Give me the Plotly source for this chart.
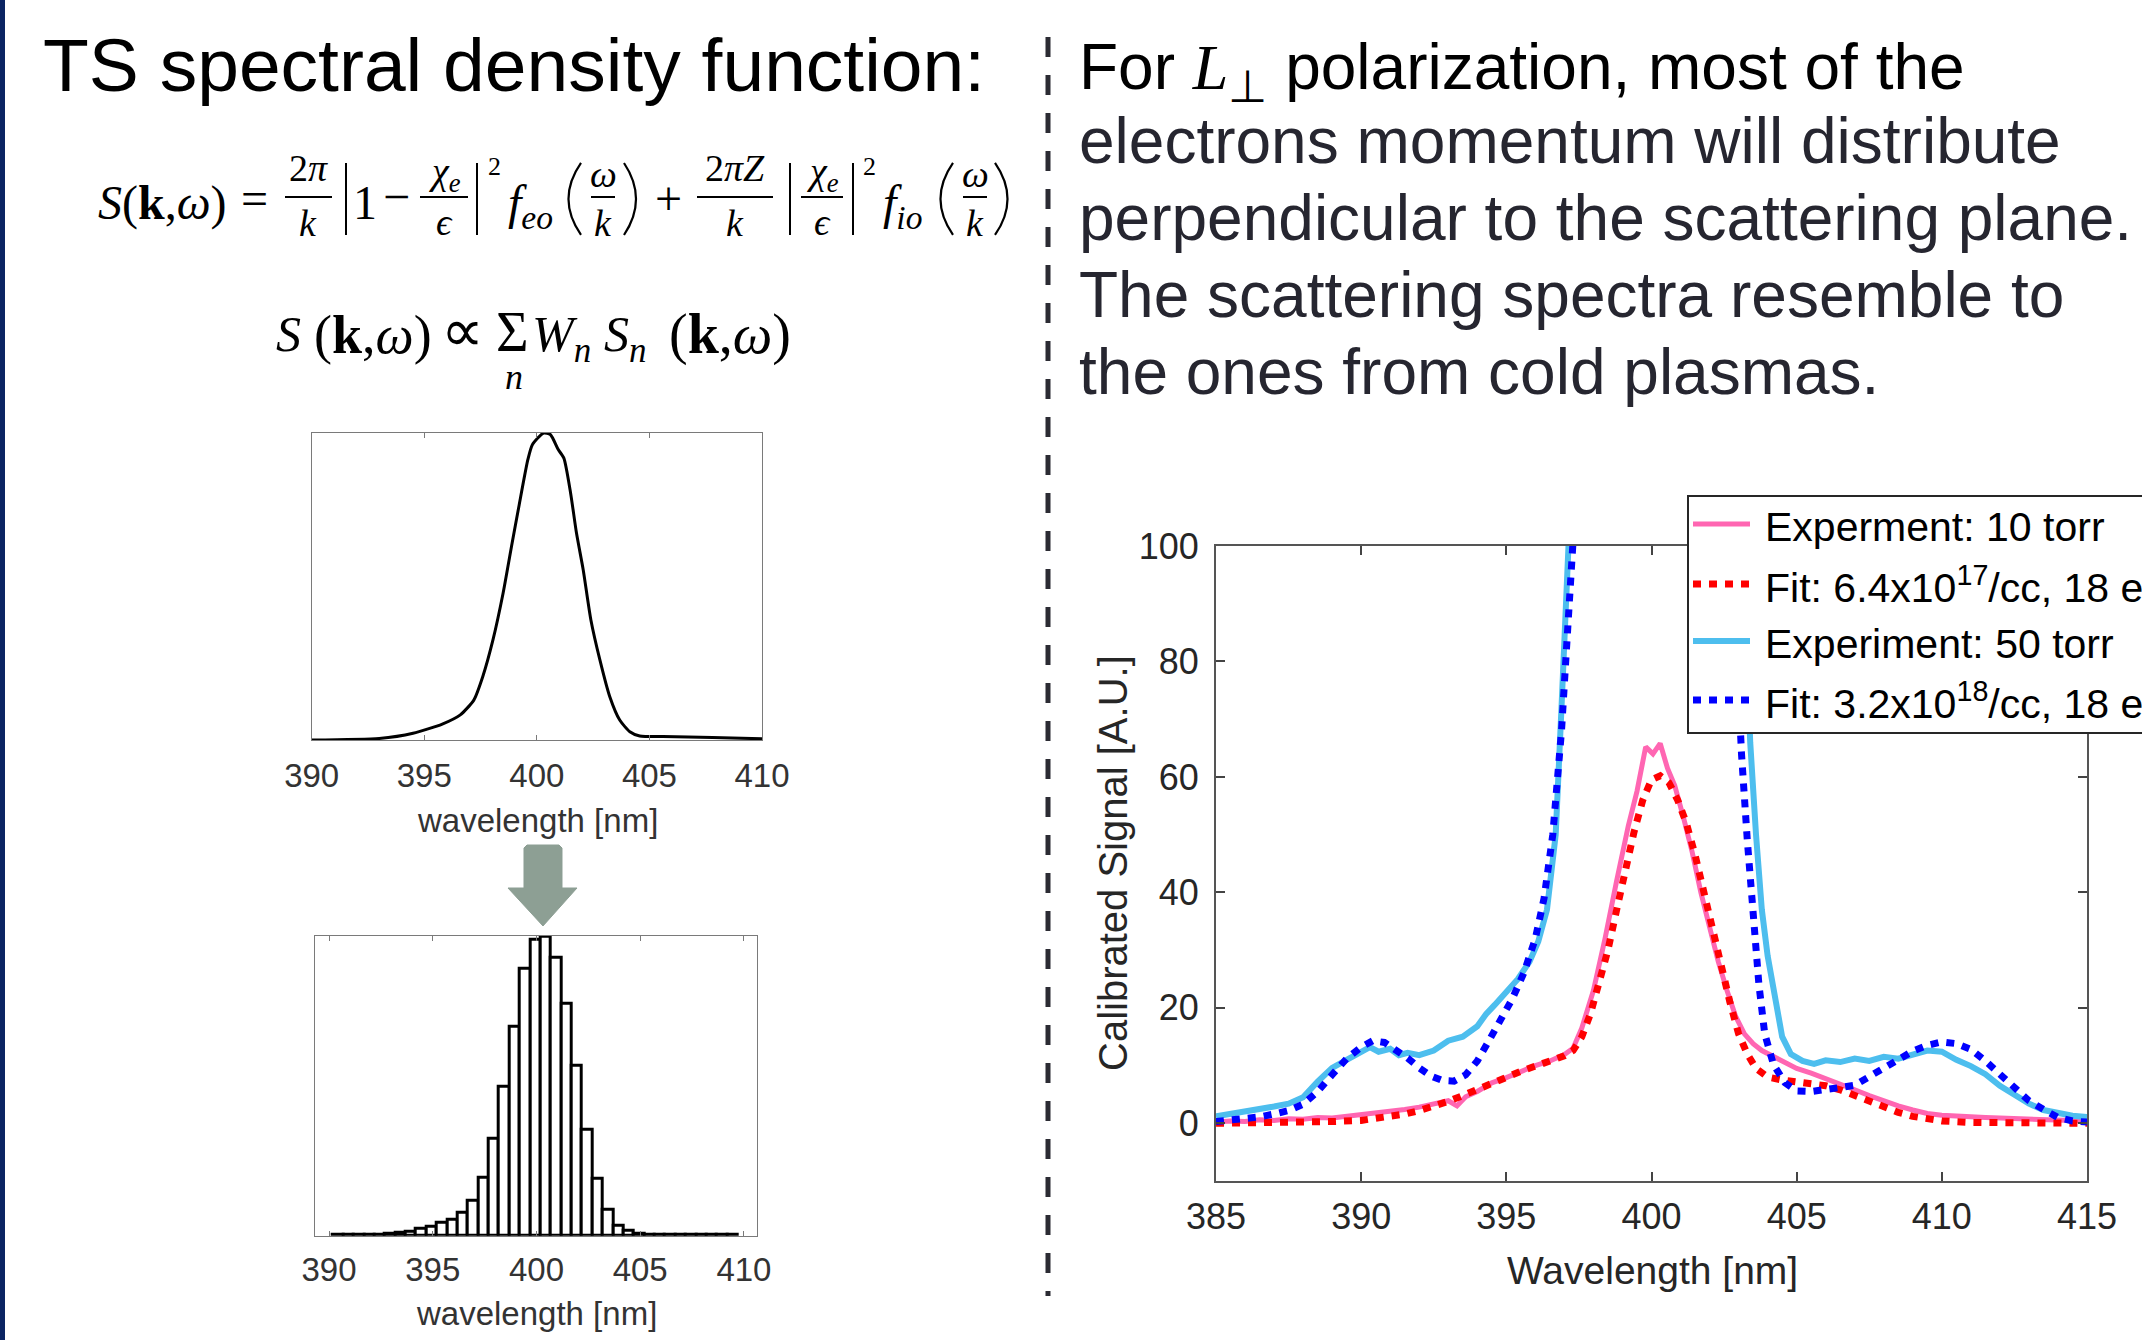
import plotly.graph_objects as go

W, H = 2142, 1340
SANS = "Liberation Sans, Arial, sans-serif"
SERIF = "Liberation Serif, Times New Roman, serif"

# ---------------- data ----------------
# top-left: TS spectral density (single curve)
curve_x = [390, 393.0, 394.5, 395.8, 396.6, 397.2, 397.6, 398.05, 398.5, 398.9, 399.2, 399.6, 399.8,
           400.3, 400.6, 400.95, 401.2, 401.5, 401.76, 402.06, 402.4, 402.8, 403.24, 403.68, 404.13,
           404.57, 405.6, 407.8, 410]
curve_y = [0.0, 0.005, 0.022, 0.052, 0.082, 0.13, 0.207, 0.326, 0.478, 0.641, 0.76, 0.913, 0.962,
           1.0, 0.995, 0.946, 0.918, 0.804, 0.674, 0.554, 0.391, 0.261, 0.141, 0.065, 0.027,
           0.013, 0.011, 0.008, 0.004]

# bottom-left: histogram of the distribution (bin centres, 0.5 nm bins)
hist_x = [390.45 + 0.5 * k for k in range(39)]
hist_y = [0.002, 0.002, 0.002, 0.003, 0.004, 0.007, 0.010, 0.013, 0.024, 0.030, 0.044, 0.054, 0.077,
          0.116, 0.193, 0.324, 0.497, 0.700, 0.894, 0.988, 1.000, 0.930, 0.777, 0.568, 0.356, 0.190,
          0.086, 0.033, 0.016, 0.008, 0.005, 0.005, 0.004, 0.003, 0.003, 0.002, 0.002, 0.002, 0.002]

# right: measured spectra and fits
exp10_x = [385, 385.5, 386, 386.5, 387, 387.5, 388, 388.5, 389, 389.5, 390, 390.5, 391, 391.5, 392,
           392.5, 393, 393.3, 393.6, 394, 394.5, 395, 395.5, 396, 396.5, 397, 397.3, 397.6, 398,
           398.4, 398.8, 399.2, 399.5, 399.8, 400.05, 400.3, 400.55, 400.8, 401.1, 401.4, 401.7, 402,
           402.3, 402.6, 402.9, 403.2, 403.5, 403.8, 404.2, 404.6, 405, 405.5, 406, 406.5, 407, 407.5,
           408, 408.5, 409, 409.5, 410, 410.5, 411, 411.5, 412, 412.5, 413, 413.5, 414, 414.5, 415]
exp10_y = [0.2, 0.4, 0.3, 0.6, 0.5, 0.8, 0.7, 1.0, 0.9, 1.2, 1.3, 1.8, 2.0, 2.4, 2.8,
           3.3, 3.9, 3.0, 4.6, 5.5, 7.0, 7.9, 9.0, 10.0, 10.8, 11.9, 13.0, 16.5, 23,
           32, 42, 51.5, 57.5, 65.2, 64, 65.8, 61.5, 58.5, 53, 47, 40, 34,
           28, 23, 18.5, 15.5, 13.8, 12.6, 11.5, 10.5, 9.5, 8.7, 7.8, 6.8, 5.8, 4.8,
           3.8, 3.0, 2.3, 1.7, 1.4, 1.2, 1.1, 1.0, 0.9, 0.8, 0.6, 0.7, 0.5, 0.4, 0.4]

fit10_x = [385, 386, 387, 388, 389, 390, 390.5, 391, 391.5, 392, 392.5, 393, 393.5, 394, 394.5, 395,
           395.5, 396, 396.5, 397, 397.3, 397.6, 397.9, 398.2, 398.5, 398.8, 399.1, 399.4, 399.7, 400,
           400.3, 400.6, 400.9, 401.2, 401.5, 401.8, 402.1, 402.4, 402.7, 403, 403.3, 403.6, 404,
           404.5, 405, 405.5, 406, 406.5, 407, 407.5, 408, 408.5, 409, 409.5, 410, 411, 412, 413,
           414, 415]
fit10_y = [0.0, 0.0, 0.1, 0.2, 0.3, 0.5, 0.8, 1.1, 1.6, 2.2, 2.9, 3.8, 4.8, 5.9, 7.0, 8.0,
           9.0, 9.9, 10.8, 11.7, 12.6, 15, 19, 24, 30, 37, 44, 50.5, 56, 59.5,
           60.2, 59, 56, 52, 46.5, 40, 33.5, 27, 21, 15.5, 12, 9.5, 8.0,
           7.5, 7.2, 6.9, 6.5, 5.8, 4.8, 3.7, 2.6, 1.9, 1.2, 0.8, 0.4, 0.15, 0.1, 0.05,
           0.0, 0.0]

exp50_x = [385, 385.5, 386, 386.5, 387, 387.5, 388, 388.5, 389, 389.5, 390, 390.3, 390.6, 391, 391.3,
           391.6, 392, 392.5, 393, 393.5, 394, 394.3, 394.6, 395, 395.4, 395.8, 396.1, 396.4, 396.7,
           396.9, 397.1, 397.4, 398, 400, 402, 402.8, 403.2, 403.4, 403.6, 403.8, 404.0, 404.2,
           404.5, 404.8, 405.2, 405.6, 406, 406.5, 407, 407.5, 408, 408.5, 409, 409.5, 410, 410.5,
           411, 411.5, 412, 412.5, 413, 413.5, 414, 414.5, 415]
exp50_y = [1.2, 1.6, 1.9, 2.4, 2.9, 3.4, 4.5, 7.2, 9.6, 11.0, 12.3, 13.2, 12.4, 12.9, 11.8,
           12.2, 11.8, 12.6, 14.3, 15.0, 16.8, 18.9, 20.5, 22.8, 25.0, 28.0, 31.5, 37, 50,
           72, 101, 140, 200, 260, 200, 150, 95, 66, 50, 37, 29, 23,
           15, 12, 10.8, 10.3, 10.9, 10.6, 11.2, 10.8, 11.5, 11.2, 11.8, 12.6, 12.4, 11.0,
           9.9, 8.5, 6.5, 4.9, 3.4, 2.3, 1.7, 1.3, 1.1]

fit50_x = [385, 385.5, 386, 386.5, 387, 387.5, 388, 388.5, 389, 389.5, 390, 390.4, 390.8, 391.2,
           391.6, 392, 392.4, 392.8, 393.2, 393.6, 394, 394.4, 394.8, 395.2, 395.6, 396, 396.3,
           396.6, 396.9, 397.2, 397.4, 397.7, 398.5, 400, 401.5, 402.5, 402.9, 403.1, 403.3, 403.5,
           403.7, 403.9, 404.2, 404.6, 405, 405.5, 406, 406.5, 407, 407.5, 408, 408.5, 409, 409.5,
           410, 410.5, 411, 411.5, 412, 412.5, 413, 413.5, 414, 414.5, 415]
fit50_y = [0.3, 0.5, 0.8, 1.1, 1.6, 2.2, 3.3, 5.5, 8.4, 11.2, 13.2, 14.3, 14.0, 12.8,
           11.3, 9.6, 8.2, 7.4, 7.3, 8.4, 10.8, 14.3, 18.0, 21.5, 26.0, 32, 39,
           50, 68, 88, 101, 130, 200, 240, 200, 130, 85, 64, 49, 36,
           24, 15.5, 10.2, 7.0, 5.6, 5.5, 6.0, 6.2, 6.6, 8.0, 9.6, 11.0, 12.5, 13.5,
           14.1, 13.8, 12.8, 10.8, 8.5, 5.8, 3.9, 2.4, 1.0, 0.4, 0.2]

series_names = ["Experment: 10 torr", "Fit: 6.4x10<sup>17</sup>/cc, 18 eV",
                "Experiment: 50 torr", "Fit: 3.2x10<sup>18</sup>/cc, 18 eV"]
main_xticks = [385, 390, 395, 400, 405, 410, 415]
main_yticks = [0, 20, 40, 60, 80, 100]
small_xticks = [390, 395, 400, 405, 410]


def px(x):
    return x / W


def py(y):
    return 1 - y / H


fig = go.Figure()

# small curve
fig.add_trace(go.Scatter(x=curve_x, y=curve_y, mode="lines",
                         line=dict(color="black", width=3, shape="spline", smoothing=0.6),
                         xaxis="x", yaxis="y", showlegend=False))
# histogram
fig.add_trace(go.Bar(x=hist_x, y=hist_y, width=0.5,
                     marker=dict(color="white", line=dict(color="black", width=3)),
                     xaxis="x2", yaxis="y2", showlegend=False))
# main plot
styles = [
    dict(x=exp10_x, y=exp10_y, color="#ff66b2", width=5, dash="solid"),
    dict(x=fit10_x, y=fit10_y, color="#ff0000", width=7, dash="8px,8px"),
    dict(x=exp50_x, y=exp50_y, color="#4dbeee", width=6, dash="solid"),
    dict(x=fit50_x, y=fit50_y, color="#0000ff", width=7, dash="8px,8px"),
]
for name, s in zip(series_names, styles):
    fig.add_trace(go.Scatter(x=s["x"], y=s["y"], mode="lines", name=name, showlegend=False,
                             line=dict(color=s["color"], width=s["width"], dash=s["dash"]),
                             xaxis="x3", yaxis="y3"))

small_ax = dict(showgrid=False, zeroline=False, showline=True, linecolor="#7a7a7a", linewidth=1,
                mirror="ticks", ticks="inside", ticklen=5, tickcolor="#7a7a7a", automargin=False,
                tickfont=dict(family=SANS, size=33, color="#333333"))
small_y = dict(showgrid=False, zeroline=False, showline=True, linecolor="#7a7a7a", linewidth=1,
               mirror=True, ticks="", showticklabels=False, automargin=False)

main_ax = dict(showgrid=False, zeroline=False, showline=True, linecolor="#555555", linewidth=2,
               mirror="ticks", ticks="inside", ticklen=9, tickwidth=2, tickcolor="#444444", automargin=False,
               tickfont=dict(family=SANS, size=36, color="#262626"))

fig.update_layout(
    width=W, height=H, margin=dict(l=0, r=0, t=0, b=0, pad=0, autoexpand=False),
    paper_bgcolor="white", plot_bgcolor="white", template="none",
    xaxis=dict(domain=[px(311.7), px(762)], anchor="y", range=[390, 410], tickvals=small_xticks,
               ticklabelstandoff=6, **small_ax),
    yaxis=dict(domain=[py(740), py(433)], anchor="x", range=[0, 1.0], **small_y),
    xaxis2=dict(domain=[px(314.7), px(757)], anchor="y2", range=[389.31, 410.63], tickvals=small_xticks,
                ticklabelstandoff=5, **small_ax),
    yaxis2=dict(domain=[py(1235.7), py(935.7)], anchor="x2", range=[0, 1.003], **small_y),
    xaxis3=dict(domain=[px(1216), px(2087)], anchor="y3", range=[385, 415], tickvals=main_xticks,
                ticklabelstandoff=3, **main_ax),
    yaxis3=dict(domain=[py(1181), py(546)], anchor="x3", range=[-10, 100], tickvals=main_yticks,
                ticklabelstandoff=8, **main_ax),
    bargap=0,
    showlegend=False,
)

ann = []
shapes = []


def label(x, y, text, size, color="black", family=SANS, xanchor="center", yanchor="middle", angle=0):
    ann.append(dict(x=px(x), y=py(y), xref="paper", yref="paper", text=text, showarrow=False,
                    font=dict(size=size, color=color, family=family), xanchor=xanchor, yanchor=yanchor,
                    textangle=angle, borderpad=0))


def base_text(x, base, text, size, family=SERIF, xanchor="center", color="black", from_bottom=False):
    if from_bottom:
        label(x, base + 0.212 * size, text, size, color=color, family=family, xanchor=xanchor, yanchor="bottom")
    else:
        asc = 0.891 if family == SERIF else 0.905
        label(x, base - asc * size, text, size, color=color, family=family, xanchor=xanchor, yanchor="top")


def hline(x0, x1, y, w=2, color="black", dash="solid"):
    shapes.append(dict(type="line", xref="paper", yref="paper", x0=px(x0), x1=px(x1), y0=py(y), y1=py(y),
                       line=dict(color=color, width=w, dash=dash)))


def vline(x, y0, y1, w=2, color="black"):
    shapes.append(dict(type="line", xref="paper", yref="paper", x0=px(x), x1=px(x), y0=py(y0), y1=py(y1),
                       line=dict(color=color, width=w)))


def paren(x_end, x_ctrl, y0=163, y1=235, w=2.2):
    ym = (y0 + y1) / 2
    p = (f"M {px(x_end):.5f},{py(y0):.5f} Q {px(x_ctrl):.5f},{py(ym):.5f} "
         f"{px(x_end):.5f},{py(y1):.5f}")
    shapes.append(dict(type="path", xref="paper", yref="paper", path=p,
                       fillcolor="rgba(0,0,0,0)", line=dict(color="black", width=w)))


# title
base_text(42, 90, "TS spectral density function:", 75, family=SANS, xanchor="left")

# right paragraph
para = [
    ("For <span style='font-family:Liberation Serif'><i>L</i></span><sub>⊥</sub> polarization, most of the", "black"),
    ("electrons momentum will distribute", "#262630"),
    ("perpendicular to the scattering plane.", "#262630"),
    ("The scattering spectra resemble to", "#262630"),
    ("the ones from cold plasmas.", "#262630"),
]
for (txt, col), b in zip(para, [88, 162, 239, 316, 393]):
    base_text(1078, b, txt, 64, family=SANS, xanchor="left", color=col)

# equation 1
base_text(97, 218, "<i>S</i>(<b>k</b>,<i>ω</i>)", 48, xanchor="left")
base_text(254, 214, "=", 48)
base_text(308, 180, "2<i>π</i>", 38); hline(285, 332, 197); base_text(308, 235, "<i>k</i>", 38)
vline(346, 163, 235)
base_text(365, 218, "1", 48)
base_text(396, 212, "−", 48)
base_text(444, 183, "<i>χ</i><sub><i>e</i></sub>", 38); hline(420, 468, 197); base_text(444, 234, "<i>ϵ</i>", 38)
vline(477, 163, 235)
base_text(494, 174, "2", 26)
base_text(507, 218, "<i>f</i><sub><i>eo</i></sub>", 48, xanchor="left")
paren(581, 556); paren(624, 648)
base_text(603, 186, "<i>ω</i>", 38); hline(591, 615, 197); base_text(603, 235, "<i>k</i>", 38)
base_text(668, 214, "+", 48)
base_text(735, 180, "2<i>πZ</i>", 38); hline(697, 773, 197); base_text(735, 235, "<i>k</i>", 38)
vline(790, 163, 235)
base_text(822, 183, "<i>χ</i><sub><i>e</i></sub>", 38); hline(801, 843, 197); base_text(822, 234, "<i>ϵ</i>", 38)
vline(853, 163, 235)
base_text(869, 174, "2", 26)
base_text(882, 218, "<i>f</i><sub><i>io</i></sub>", 48, xanchor="left")
paren(953, 928); paren(995, 1020)
base_text(975, 186, "<i>ω</i>", 38); hline(963, 987, 197); base_text(975, 235, "<i>k</i>", 38)

# equation 2
base_text(275, 350, "<i>S</i>", 50, xanchor="left")
base_text(313, 352, "(<b>k</b>,<i>ω</i>)", 54, xanchor="left")
base_text(462, 350, "∝", 60)
base_text(512, 350, "Σ", 56)
base_text(514, 388, "<i>n</i>", 36)
base_text(531, 350, "<i>W</i><sub><i>n</i></sub>", 50, xanchor="left")
base_text(603, 350, "<i>S</i><sub><i>n</i></sub>", 50, xanchor="left")
base_text(668, 352, "(<b>k</b>,<i>ω</i>)", 56, xanchor="left")

# axis titles
label(537, 820, "wavelength [nm]", 33, color="#333333")
label(536, 1313, "wavelength [nm]", 33, color="#333333")
label(1652, 1270, "Wavelength [nm]", 39, color="#262626")
label(1113, 863, "Calibrated Signal [A.U.]", 40, color="#262626", angle=-90)

# legend box of the main plot (extends beyond the right edge, as in the slide)
shapes.append(dict(type="rect", xref="paper", yref="paper", x0=px(1688), x1=px(2160), y0=py(733), y1=py(496),
                   fillcolor="white", line=dict(color="#262626", width=2), layer="above"))
leg_rows = [(524, 542), (584, 603), (641, 659), (700, 719)]
for name, s, (ly, tb) in zip(series_names, styles, leg_rows):
    hline(1693, 1750, ly, w=s["width"], color=s["color"], dash=s["dash"])
    base_text(1764, tb, name, 41, family=SANS, xanchor="left", from_bottom=True)

# decorations: left strip, separator, arrow
shapes.append(dict(type="rect", xref="paper", yref="paper", x0=0, x1=px(5), y0=0, y1=1,
                   fillcolor="#0b2463", line=dict(width=0), layer="above"))
shapes.append(dict(type="line", xref="paper", yref="paper", x0=px(1048), x1=px(1048), y0=py(37), y1=py(1296),
                   line=dict(color="#2b2b33", width=5, dash="20px,18px")))
arrow = [(524, 848), (527, 845), (559, 845), (562, 848), (562, 888), (577, 888), (543, 926), (508, 888),
         (524, 888)]
path = "M " + " L ".join(f"{px(a):.5f},{py(b):.5f}" for a, b in arrow) + " Z"
shapes.append(dict(type="path", xref="paper", yref="paper", path=path, fillcolor="#8d9f94",
                   line=dict(color="#8d9f94", width=1)))

fig.update_layout(annotations=ann, shapes=shapes)
fig.write_html("out.html")
